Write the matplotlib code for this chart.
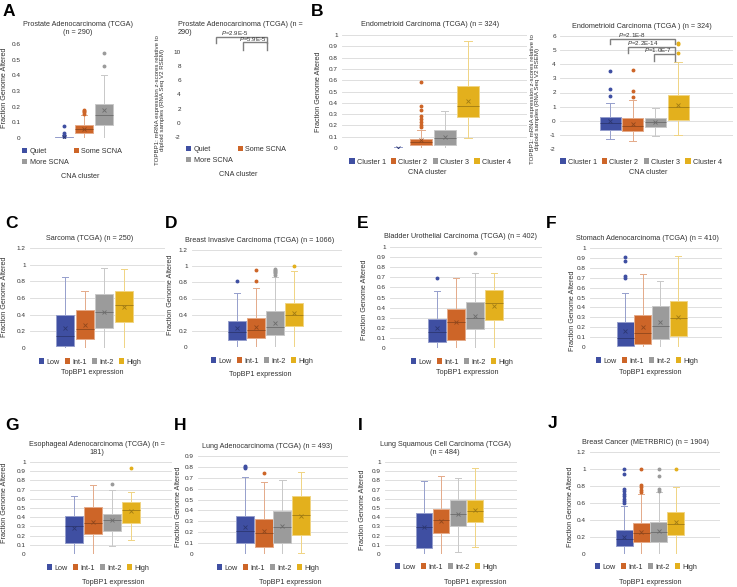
import matplotlib
matplotlib.use("Agg")
import matplotlib.pyplot as plt
import numpy as np
from matplotlib.colors import to_rgb
from matplotlib.patches import Patch

plt.rcParams["font.family"] = ["Liberation Sans", "DejaVu Sans"]
plt.rcParams["mathtext.fontset"] = "custom"
plt.rcParams["mathtext.it"] = "Liberation Sans:italic"
plt.rcParams["mathtext.rm"] = "Liberation Sans"

W, H = 737, 587
COLORS = ["#3f4fa2", "#cd6528", "#9b9b9b", "#e3b01d"]
TXT = "#333333"

EXPR_GROUPS = ["Low", "Int-1", "Int-2", "High"]
CNA_PROSTATE = ["Quiet", "Some SCNA", "More SCNA"]
CNA_ENDO = ["Cluster 1", "Cluster 2", "Cluster 3", "Cluster 4"]

# box summaries per group: [whislo, q1, median, q3, whishi]
prostate_box = [[0, 0, 0.002, 0.004, 0.008], [0, 0.03, 0.055, 0.083, 0.145], [0, 0.085, 0.15, 0.22, 0.40]]
prostate_mean = [0.004, 0.06, 0.18]
prostate_fliers = [[0.012, 0.02, 0.03, 0.075], [0.155, 0.165, 0.172, 0.18], [0.46, 0.54]]

endo_box = [[0, 0, 0.001, 0.003, 0.005], [0, 0.03, 0.05, 0.08, 0.157], [0, 0.03, 0.09, 0.157, 0.33], [0.09, 0.275, 0.37, 0.55, 0.95]]
endo_mean = [0.001, 0.07, 0.10, 0.42]
endo_fliers = [[], [0.185, 0.20, 0.23, 0.26, 0.28, 0.335, 0.37, 0.585], [], []]

endo_z_box = [[-1.31, -0.65, -0.18, 0.29, 1.28], [-1.41, -0.72, -0.34, 0.17, 1.47], [-1.05, -0.42, -0.11, 0.17, 0.93], [-1.03, 0.02, 1.0, 1.8, 4.14]]
endo_z_mean = [0.0, -0.23, -0.11, 1.12]
endo_z_fliers = [[1.78, 2.22, 3.52], [1.66, 2.11, 3.6], [], [4.77, 5.41, 5.53]]
endo_p_labels = ["2.1E-8", "2.2E-14", "1.0E-7"]
prostate_p_labels = ["2.9E-5", "5.9E-5"]

sarcoma_box = [[0, 0.03, 0.147, 0.40, 0.85], [0, 0.107, 0.226, 0.457, 0.687], [0, 0.246, 0.43, 0.644, 0.96], [0, 0.318, 0.517, 0.683, 0.946]]
sarcoma_mean = [0.238, 0.278, 0.435, 0.497]
sarcoma_fliers = [[], [], [], []]

brca_box = [[0, 0.09, 0.18, 0.32, 0.67], [0, 0.11, 0.21, 0.36, 0.73], [0, 0.15, 0.245, 0.44, 0.86], [0, 0.265, 0.40, 0.55, 0.94]]
brca_mean = [0.23, 0.25, 0.30, 0.415]
brca_fliers = [[0.82], [0.82, 0.95], [0.89, 0.91, 0.93, 0.94, 0.95, 0.96], [1.0]]

blca_box = [[0, 0.056, 0.157, 0.285, 0.567], [0, 0.082, 0.262, 0.384, 0.695], [0, 0.187, 0.295, 0.459, 0.738], [0, 0.279, 0.449, 0.57, 0.738]]
blca_mean = [0.197, 0.262, 0.318, 0.42]
blca_fliers = [[0.695], [], [0.944], []]

stad_box = [[0, 0.007, 0.09, 0.25, 0.545], [0, 0.03, 0.14, 0.323, 0.737], [0, 0.08, 0.21, 0.417, 0.67], [0, 0.115, 0.293, 0.468, 0.916]]
stad_mean = [0.165, 0.2, 0.25, 0.30]
stad_fliers = [[0.70, 0.72, 0.87, 0.91], [], [], []]

esca_box = [[0, 0.119, 0.30, 0.414, 0.633], [0, 0.216, 0.335, 0.514, 0.755], [0.083, 0.25, 0.37, 0.435, 0.70], [0.155, 0.342, 0.478, 0.568, 0.676]]
esca_mean = [0.28, 0.353, 0.37, 0.47]
esca_fliers = [[], [], [0.766], [0.935]]

luad_box = [[0, 0.10, 0.214, 0.345, 0.71], [0, 0.06, 0.19, 0.32, 0.665], [0, 0.10, 0.244, 0.395, 0.68], [0.01, 0.17, 0.36, 0.534, 0.75]]
luad_mean = [0.244, 0.21, 0.26, 0.35]
luad_fliers = [[0.79, 0.80, 0.81], [0.74], [], []]

lusc_box = [[0, 0.069, 0.29, 0.45, 0.79], [0, 0.224, 0.375, 0.484, 0.848], [0.025, 0.303, 0.43, 0.592, 0.827], [0.072, 0.35, 0.47, 0.592, 0.935]]
lusc_mean = [0.296, 0.357, 0.43, 0.48]
lusc_fliers = [[], [], [], []]

metabric_box = [[0, 0.094, 0.177, 0.283, 0.567], [0, 0.138, 0.252, 0.362, 0.705], [0, 0.146, 0.256, 0.374, 0.724], [0, 0.224, 0.354, 0.50, 0.787]]
metabric_mean = [0.205, 0.264, 0.27, 0.374]
metabric_fliers = [[0.598, 0.618, 0.65, 0.685, 0.709, 0.736, 0.764, 0.945, 1.0],
                   [0.724, 0.756, 0.79, 0.815, 1.0], [0.736, 0.764, 0.913, 1.0], [1.0]]

fig = plt.figure(figsize=(W / 100, H / 100), dpi=100)


def mix(c, other, t):
    a, b = np.array(to_rgb(c)), np.array(to_rgb(other))
    return tuple(a * (1 - t) + b * t)


def ftext(x, y, s, **kw):
    kw.setdefault("ha", "center")
    kw.setdefault("va", "center")
    kw.setdefault("color", TXT)
    return fig.text(x / W, 1 - y / H, s, **kw)


def px_axes(left, top, right, bottom):
    return fig.add_axes([left / W, 1 - bottom / H, (right - left) / W, (bottom - top) / H])


def style_axes(ax, ylim, ystep, grid):
    ticks = np.arange(ylim[0], ylim[1] + ystep / 2, ystep)
    ax.set_ylim(ylim)
    ax.set_yticks(ticks)
    ax.set_yticklabels([f"{round(t, 2):g}" for t in ticks])
    ax.set_xticks([])
    ax.tick_params(axis="y", length=0, pad=3, labelsize=4.6, labelcolor=TXT)
    for sp in ax.spines.values():
        sp.set_visible(False)
    if grid:
        ax.set_axisbelow(True)
        ax.yaxis.grid(True, color="#d9d9d9", linewidth=0.6)


def box_panel(rect, box, mean, fliers, ylim, ystep, first_px, step_px, box_px, grid=True):
    left, top, right, bottom = rect
    ax = px_axes(*rect)
    stats = [dict(whislo=b[0], q1=b[1], med=b[2], q3=b[3], whishi=b[4], mean=m, fliers=f)
             for b, m, f in zip(box, mean, fliers)]
    wid = box_px / step_px
    art = ax.bxp(stats, positions=range(len(stats)), widths=wid, capwidths=wid * 0.35,
                 patch_artist=True, showmeans=True, manage_ticks=False)
    for i, c in enumerate(COLORS[:len(stats)]):
        light = mix(c, "white", 0.45)
        dark = mix(c, "black", 0.3)
        art["boxes"][i].set(facecolor=c, edgecolor=light, linewidth=0.7)
        for ln in art["whiskers"][2 * i:2 * i + 2] + art["caps"][2 * i:2 * i + 2]:
            ln.set(color=light, linewidth=0.7)
        art["medians"][i].set(color=dark, linewidth=0.6)
        art["means"][i].set(marker="x", markersize=3.2, markeredgecolor=dark, markeredgewidth=0.6)
        art["fliers"][i].set(marker="o", markersize=1.8, markerfacecolor=c, markeredgecolor=c)
    ax.set_xlim((left - first_px) / step_px, (right - first_px) / step_px)
    style_axes(ax, ylim, ystep, grid)
    return ax


def legend(labels, x, y, ncol=4, loc="center", order=None):
    handles = [Patch(facecolor=c, edgecolor="none") for c in COLORS[:len(labels)]]
    if order:
        handles = [handles[i] for i in order]
        labels = [labels[i] for i in order]
    fig.legend(handles, labels, loc=loc, bbox_to_anchor=(x / W, 1 - y / H), ncol=ncol,
               frameon=False, fontsize=5.2, handlelength=0.75, handleheight=0.75,
               handletextpad=0.3, columnspacing=0.7, borderpad=0, borderaxespad=0,
               labelcolor=TXT)


def brackets(ax, lefts, right, tops, drops, labels, text_x, text_y, size):
    for l, t, d, lab, tx, ty in zip(lefts, tops, drops, labels, text_x, text_y):
        ax.plot([l, l, right, right], [d, t, t, d], color="#7f7f7f", lw=1.0, clip_on=False,
                solid_joinstyle="miter")
        ax.text(tx, ty, r"$\mathit{P}$=" + lab, ha="center", va="center", fontsize=size,
                color=TXT, clip_on=False)


YLAB = "Fraction Genome Altered"
ZLAB = "TOPBP1: mRNA expression z-scores relative to\ndiploid samples (RNA Seq V2 RSEM)"

# ---- A ----
box_panel((25, 44, 143, 138), prostate_box, prostate_mean, prostate_fliers, (0, 0.6), 0.1, 64, 20, 18, grid=False)
ftext(9, 11, "A", fontsize=12.5, fontweight="bold", color="black")
ftext(78, 28.5, "Prostate Adenocarcinoma (TCGA)\n(n = 290)", fontsize=5.2)
ftext(5, 88, YLAB, rotation=90, fontsize=5.2)
legend(CNA_PROSTATE, 22, 148, ncol=2, loc="upper left", order=[0, 2, 1])
ftext(80, 176, "CNA cluster", fontsize=5.2)

ax = px_axes(185, 52, 300, 137)
ax.set_xlim((185 - 216) / 25.5, (300 - 216) / 25.5)
style_axes(ax, (-2, 10), 2, grid=False)
brackets(ax, [0, 1.06], 2.0, [12.12, 11.41], [11.27, 10.28], prostate_p_labels,
         [0.75, 1.45], [12.75, 11.85], 4.4)
ftext(178, 25, "Prostate Adenocarcinoma (TCGA) (n =", fontsize=5.2, ha="left")
ftext(178, 33, "290)", fontsize=5.2, ha="left")
ftext(160, 100, ZLAB, rotation=90, fontsize=4.4)
legend(CNA_PROSTATE, 186, 146, ncol=2, loc="upper left", order=[0, 2, 1])
ftext(238, 175, "CNA cluster", fontsize=5.2)

# ---- B ----
box_panel((342, 35, 527, 148), endo_box, endo_mean, endo_fliers, (0, 1), 0.1, 398, 23.3, 22)
ftext(317, 12, "B", fontsize=12.5, fontweight="bold", color="black")
ftext(430, 25, "Endometrioid Carcinoma (TCGA) (n = 324)", fontsize=5.2)
ftext(318, 92, YLAB, rotation=90, fontsize=5.2)
legend(CNA_ENDO, 430, 162)
ftext(427, 173, "CNA cluster", fontsize=5.2)

ax = box_panel((560, 36, 733, 149), endo_z_box, endo_z_mean, endo_z_fliers, (-2, 6), 1, 610, 22.7, 21)
brackets(ax, [0, 0.8, 1.95], 2.86, [5.79, 5.22, 4.7], [5.43, 4.8, 4.25], endo_p_labels,
         [0.97, 1.45, 2.1], [6.1, 5.53, 5.02], 4.5)
ftext(642, 26, "Endometrioid Carcinoma (TCGA ) (n = 324)", fontsize=5.2)
ftext(535, 99, ZLAB, rotation=90, fontsize=4.4)
legend(CNA_ENDO, 641, 162)
ftext(648, 173, "CNA cluster", fontsize=5.2)

# ---- C-J ----
panels = [
    ("C", (12, 223), (30, 248, 165, 348), sarcoma_box, sarcoma_mean, sarcoma_fliers, (0, 1.2), 0.2, 65, 19.6, 18,
     "Sarcoma (TCGA) (n = 250)", (90, 238), (5, 297), (90, 362), (92, 373)),
    ("D", (171, 223), (192, 250, 342, 347), brca_box, brca_mean, brca_fliers, (0, 1.2), 0.2, 237, 19, 18,
     "Breast Invasive Carcinoma (TCGA) (n = 1066)", (260, 241), (170, 295), (262, 361), (260, 375)),
    ("E", (363, 223), (390, 247, 542, 348), blca_box, blca_mean, blca_fliers, (0, 1), 0.1, 437, 19, 18,
     "Bladder Urothelial Carcinoma (TCGA) (n = 402)", (460, 237), (365, 300), (462, 362), (467, 373)),
    ("F", (551, 223), (590, 248, 722, 347), stad_box, stad_mean, stad_fliers, (0, 1), 0.1, 625, 17.7, 17,
     "Stomach Adenocarcinoma (TCGA) (n = 410)", (647, 239), (572, 311), (647, 361), (650, 373)),
    ("G", (12, 425), (30, 462, 172, 554), esca_box, esca_mean, esca_fliers, (0, 1), 0.1, 74, 19, 18,
     "Esophageal Adenocarcinoma (TCGA) (n =\n181)", (97, 448), (5, 503), (98, 568), (113, 582)),
    ("H", (180, 425), (198, 456, 348, 554), luad_box, luad_mean, luad_fliers, (0, 0.9), 0.1, 245, 18.7, 18,
     "Lung Adenocarcinoma (TCGA) (n = 493)", (267, 447), (178, 507), (268, 568), (290, 583)),
    ("I", (360, 425), (385, 462, 517, 554), lusc_box, lusc_mean, lusc_fliers, (0, 1), 0.1, 424, 17, 16.5,
     "Lung Squamous Cell Carcinoma (TCGA)\n(n = 484)", (445, 448), (363, 510), (446, 567), (475, 582)),
    ("J", (553, 423), (590, 452, 720, 554), metabric_box, metabric_mean, metabric_fliers, (0, 1.2), 0.2, 624, 17.3, 17,
     "Breast Cancer (METRBRIC) (n = 1904)", (645, 443), (570, 507), (646, 567), (650, 582)),
]

for (letter, lpos, rect, box, mean, fl, ylim, ystep, c0, step, bw,
     title, tpos, ypos, legpos, xpos) in panels:
    box_panel(rect, box, mean, fl, ylim, ystep, c0, step, bw)
    ftext(*lpos, letter, fontsize=12.5, fontweight="bold", color="black")
    ftext(*tpos, title, fontsize=5.2)
    ftext(*ypos, YLAB, rotation=90, fontsize=5.2)
    legend(EXPR_GROUPS, *legpos)
    ftext(*xpos, "TopBP1 expression", fontsize=5.2)

fig.savefig("out.png", dpi=100, facecolor="white")
